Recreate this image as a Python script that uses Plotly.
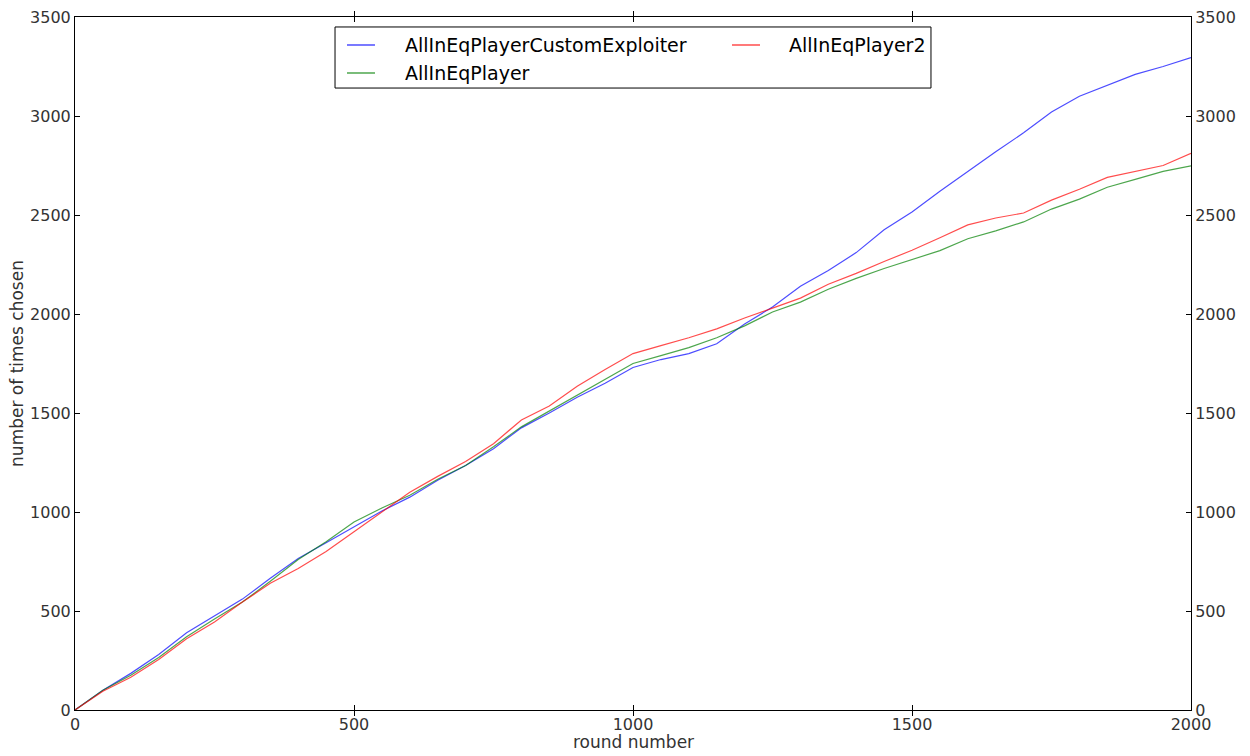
import plotly.graph_objects as go

# round numbers at which the cumulative counts are sampled
rounds = list(range(0, 2001, 50))

exploiter = [0, 100, 185, 280, 390, 475, 560, 665, 765, 845, 925,
             1005, 1075, 1160, 1235, 1320, 1425, 1500, 1580, 1650, 1730,
             1770, 1800, 1850, 1950, 2035, 2140, 2220, 2310, 2425, 2515,
             2620, 2720, 2820, 2915, 3020, 3100, 3155, 3210, 3250, 3295]

eq_player = [0, 100, 175, 265, 370, 460, 545, 650, 760, 850, 950,
             1020, 1085, 1165, 1235, 1330, 1430, 1510, 1590, 1670, 1750,
             1790, 1830, 1880, 1940, 2010, 2060, 2125, 2180, 2230, 2275,
             2320, 2380, 2420, 2465, 2530, 2580, 2640, 2680, 2720, 2748]

eq_player2 = [0, 95, 165, 255, 360, 445, 545, 640, 715, 800, 900,
              1000, 1100, 1180, 1255, 1345, 1465, 1535, 1635, 1720, 1800,
              1840, 1880, 1925, 1980, 2030, 2080, 2150, 2205, 2265, 2322,
              2385, 2450, 2485, 2510, 2575, 2630, 2690, 2720, 2750, 2812]

x_ticks = [0, 500, 1000, 1500, 2000]
y_ticks = [0, 500, 1000, 1500, 2000, 2500, 3000, 3500]

FONT = "DejaVu Sans"
TXT = "#333333"

series = [
    ("AllInEqPlayerCustomExploiter", exploiter, "rgba(0,0,255,0.7)"),
    ("AllInEqPlayer", eq_player, "rgba(0,128,0,0.7)"),
    ("AllInEqPlayer2", eq_player2, "rgba(255,0,0,0.7)"),
]

fig = go.Figure()
for name, values, color in series:
    fig.add_trace(go.Scatter(x=rounds, y=values, mode="lines", name=name,
                             line=dict(color=color, width=1.2),
                             showlegend=False))
# placeholder trace so the right-hand axis is drawn
fig.add_trace(go.Scatter(x=[0], y=[0], yaxis="y2", mode="markers",
                         marker=dict(opacity=0), showlegend=False,
                         hoverinfo="skip"))

axis_common = dict(showgrid=False, zeroline=False, showline=True,
                   linecolor="black", linewidth=1, ticks="inside",
                   ticklen=5, tickwidth=1, tickcolor="black",
                   automargin=False,
                   tickfont=dict(family=FONT, size=16, color=TXT))

# boxed two-column key: (sample x0, sample x1, text x, row y) in paper units
key_slots = [(0.2437, 0.2688, 0.2939, 0.9596),
             (0.2437, 0.2688, 0.2939, 0.9192),
             (0.5887, 0.6138, 0.6380, 0.9596)]

shapes = [dict(type="rect", xref="paper", yref="paper",
               x0=0.233, x1=0.767, y0=0.8975, y1=0.9856,
               line=dict(color="black", width=1), fillcolor="white",
               layer="above")]
annotations = []
for (name, _, color), (sx0, sx1, tx, ty) in zip(series, key_slots):
    shapes.append(dict(type="line", xref="paper", yref="paper",
                       x0=sx0, x1=sx1, y0=ty, y1=ty, layer="above",
                       line=dict(color=color, width=1.5)))
    annotations.append(dict(text=name, xref="paper", yref="paper",
                            x=tx, y=ty, xanchor="left", yanchor="middle",
                            showarrow=False,
                            font=dict(family=FONT, size=19, color="black")))

annotations.append(dict(text="round number", xref="paper", yref="paper",
                        x=0.5, y=-0.0462, xanchor="center", yanchor="middle",
                        showarrow=False,
                        font=dict(family=FONT, size=17, color=TXT)))

fig.update_layout(
    width=1250, height=756,
    margin=dict(l=75, r=59, t=17, b=46),
    paper_bgcolor="white", plot_bgcolor="white",
    font=dict(family=FONT, color=TXT),
    xaxis=dict(range=[0, 2000], tickvals=x_ticks, mirror="allticks",
               **axis_common),
    yaxis=dict(range=[0, 3500], tickvals=y_ticks, mirror="allticks",
               title=dict(text="number of times chosen",
                          font=dict(size=17, color=TXT), standoff=2),
               **axis_common),
    yaxis2=dict(range=[0, 3500], tickvals=y_ticks, overlaying="y",
                side="right", **axis_common),
    shapes=shapes,
    annotations=annotations,
    showlegend=False,
)

fig.write_html("out.html")
